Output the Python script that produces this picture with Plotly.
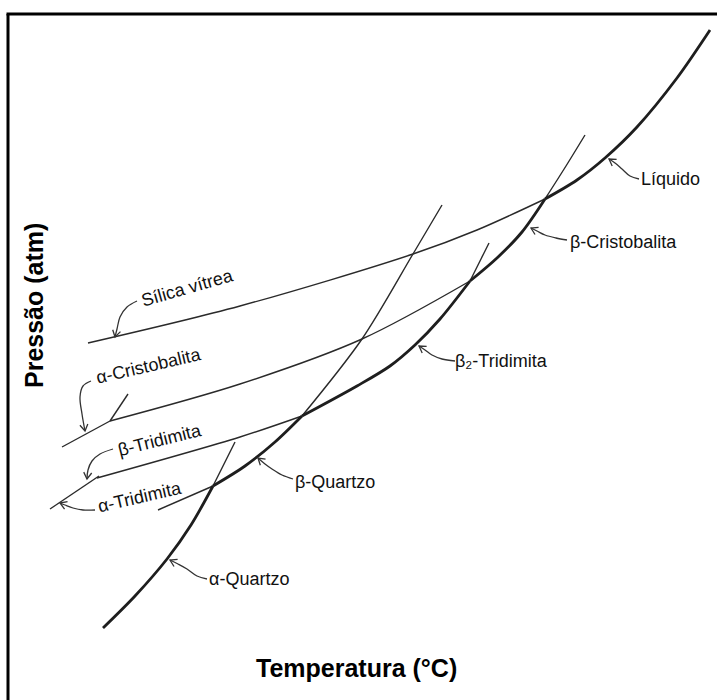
import numpy as np
import plotly.graph_objects as go

# ---- Schematic curves (temperature across, pressure; image-style vertical scale) ----
# Liquid (stable, thick) and vitreous silica (metastable, thin)
silica_x = [88, 240, 413, 477, 545]
silica_y = [343, 306, 254, 230, 199]
liquid_x = [545, 577, 605, 637, 677, 710]
liquid_y = [199, 180, 158, 127, 78, 30]

# Cristobalite
acrist_x = [62, 110]
acrist_y = [447, 421]
acrist_ext_x = [110, 128]
acrist_ext_y = [421, 394]
bcrist_meta_x = [110, 240, 362, 470]
bcrist_meta_y = [421, 384, 339, 281]
bcrist_x = [470, 497, 522, 545]
bcrist_y = [281, 258, 232, 199]
bcrist_ext_x = [545, 566, 585]
bcrist_ext_y = [199, 166, 135]

# Tridymite
atrid_x = [50, 99]
atrid_y = [509, 476]
btrid_meta_x = [97, 240, 302]
btrid_meta_y = [478, 437, 416]
btrid_x = [302, 357, 390, 415, 440, 470]
btrid_y = [416, 386, 366, 345, 319, 281]
btrid_ext_x = [470, 489]
btrid_ext_y = [281, 243]

# Quartz
aquartz_x = [103, 135, 167, 191, 213]
aquartz_y = [628, 596, 559, 525, 486]
aquartz_ext_x = [213, 235]
aquartz_ext_y = [486, 442]
bquartz_meta_x = [158, 213]
bquartz_meta_y = [510, 486]
bquartz_x = [213, 245, 275, 302]
bquartz_y = [486, 466, 442, 416]
bquartz_ext_x = [302, 362, 413, 442]
bquartz_ext_y = [416, 339, 254, 205]

# ---- Labels ----
label_text = ["Sílica vítrea", "α-Cristobalita", "β-Tridimita", "α-Tridimita",
              "α-Quartzo", "β-Quartzo", "β₂-Tridimita", "β-Cristobalita", "Líquido"]
label_x = [187, 148, 160, 140, 249, 335, 501, 623, 670]
label_y = [288, 366, 440, 497, 579, 482, 361, 242, 179]
label_angle = [-16, -13, -14, -13, 0, 0, 0, 0, 0]

# Leader arrows (from label to curve)
arrow_x = [
    [137, 127, 120, 117, 115],
    [91, 83, 80, 82, 85],
    [113, 100, 92, 88, 87],
    [95, 83, 73, 65, 60],
    [207, 197, 187, 178, 170],
    [293, 282, 272, 265, 258],
    [455, 442, 432, 425, 419],
    [567, 556, 545, 537, 531],
    [639, 630, 622, 615, 609],
]
arrow_y = [
    [301, 307, 317, 329, 337],
    [381, 386, 397, 414, 431],
    [449, 454, 461, 470, 479],
    [510, 510, 508, 505, 503],
    [579, 576, 569, 564, 560],
    [479, 475, 469, 464, 458],
    [361, 359, 355, 350, 346],
    [240, 238, 235, 231, 228],
    [179, 176, 169, 163, 159],
]

x_title = "Temperatura (°C)"
y_title = "Pressão (atm)"

THICK = 2.8
THIN = 1.4
INK = "#1e1e1e"

fig = go.Figure()


def curve(xs, ys, w, color=INK, smoothing=0.9):
    fig.add_trace(go.Scatter(
        x=xs, y=ys, mode="lines",
        line=dict(color=color, width=w, shape="spline", smoothing=smoothing),
        hoverinfo="skip", showlegend=False))


# metastable (thin) curves
for xs, ys in [(silica_x, silica_y), (acrist_ext_x, acrist_ext_y),
               (bcrist_meta_x, bcrist_meta_y), (bcrist_ext_x, bcrist_ext_y),
               (btrid_meta_x, btrid_meta_y), (btrid_ext_x, btrid_ext_y),
               (aquartz_ext_x, aquartz_ext_y), (bquartz_meta_x, bquartz_meta_y),
               (bquartz_ext_x, bquartz_ext_y), (acrist_x, acrist_y), (atrid_x, atrid_y)]:
    curve(xs, ys, THIN, "#2a2a2a")

# stable (thick) curves
for xs, ys in [(liquid_x, liquid_y), (bcrist_x, bcrist_y), (btrid_x, btrid_y),
               (bquartz_x, bquartz_y), (aquartz_x, aquartz_y)]:
    curve(xs, ys, THICK)

# leader arrows with open chevron heads derived from the path direction
HEAD_LEN, HEAD_HALF = 6.5, 4.0
for xs, ys in zip(arrow_x, arrow_y):
    curve(xs, ys, 1.3, "#333", smoothing=1.0)
    tip = np.array([xs[-1], ys[-1]], float)
    prev = np.array([xs[-2], ys[-2]], float)
    d = tip - prev
    d /= np.linalg.norm(d)
    n = np.array([-d[1], d[0]])
    a = tip - HEAD_LEN * d + HEAD_HALF * n
    b = tip - HEAD_LEN * d - HEAD_HALF * n
    fig.add_trace(go.Scatter(
        x=[a[0], tip[0], b[0]], y=[a[1], tip[1], b[1]], mode="lines",
        line=dict(color="#333", width=1.3), hoverinfo="skip", showlegend=False))

annotations = []
font_lbl = dict(family="Liberation Sans, Arial, DejaVu Sans, sans-serif", size=18, color="#111")
for t, x, y, a in zip(label_text, label_x, label_y, label_angle):
    annotations.append(dict(x=x, y=y, xref="x", yref="y", text=t, showarrow=False,
                            textangle=a, font=font_lbl, xanchor="center", yanchor="middle"))

font_title = dict(family="Liberation Sans, Arial, sans-serif", size=25, color="#000")
annotations.append(dict(x=356, y=668, xref="x", yref="y", text="<b>%s</b>" % x_title,
                        showarrow=False, font=font_title))
annotations.append(dict(x=34, y=306, xref="x", yref="y", text="<b>%s</b>" % y_title,
                        showarrow=False, textangle=-90, font=font_title))

shapes = [
    dict(type="line", xref="paper", yref="paper", x0=8 / 717, x1=8 / 717, y0=0, y1=686 / 700,
         line=dict(color="#000", width=3)),
    dict(type="line", xref="paper", yref="paper", x0=6.5 / 717, x1=1, y0=686 / 700, y1=686 / 700,
         line=dict(color="#000", width=3)),
]

fig.update_layout(
    width=717, height=700,
    margin=dict(l=0, r=0, t=0, b=0),
    paper_bgcolor="white", plot_bgcolor="white",
    xaxis=dict(range=[0, 717], visible=False, fixedrange=True),
    yaxis=dict(range=[700, 0], visible=False, fixedrange=True),
    annotations=annotations, shapes=shapes,
)

fig.write_html("out.html")
